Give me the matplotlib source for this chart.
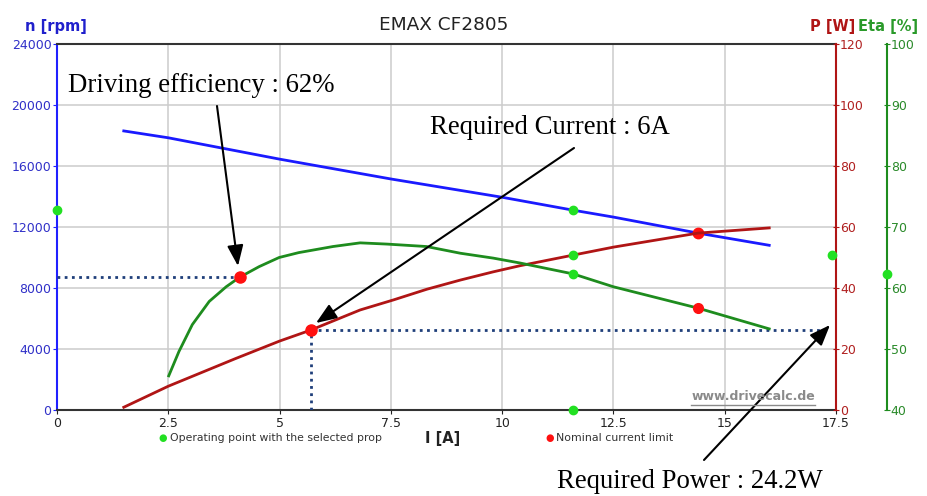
import matplotlib
matplotlib.use("Agg")
import matplotlib.pyplot as plt
from matplotlib.lines import Line2D
from matplotlib.patches import FancyArrowPatch

# ---------------- data ----------------
title = "EMAX CF2805"
I_rpm = [1.5, 2.5, 5.0, 7.5, 10.0, 11.6, 12.5, 14.4, 16.0]
rpm = [18300, 17850, 16450, 15150, 13950, 13100, 12650, 11600, 10800]

I_pow = [1.5, 2.5, 4.0, 5.0, 5.7, 6.81, 7.56, 8.31, 9.06, 9.8, 10.4, 11.6, 12.5, 14.4, 16.0]
power = [0.9, 7.8, 16.8, 22.6, 26.2, 32.8, 36.1, 39.6, 42.6, 45.3, 47.3, 50.8, 53.4, 58.0, 59.7]

I_eta = [2.51, 2.74, 3.04, 3.42, 3.80, 4.1, 4.54, 4.99, 5.43, 6.2, 6.81, 7.41, 8.3, 9.06,
         9.8, 10.4, 11.6, 12.5, 14.4, 16.0]
eta = [45.6, 49.6, 54.0, 57.8, 60.2, 61.75, 63.5, 65.0, 65.8, 66.8, 67.4, 67.2, 66.8, 65.7,
       64.9, 64.1, 62.3, 60.2, 56.7, 53.3]

# operating point with the selected prop
op_I = 11.6
op_rpm = 13100
op_P = 50.8
op_eta = 62.3
# nominal current limit points
nom_I = 14.4
nom_rpm = 11600
nom_eta = 56.7
# annotated points
drv_I = 4.1
drv_eta = 61.75
req_I = 5.7
req_P = 26.2

x_ticks = [0, 2.5, 5, 7.5, 10, 12.5, 15, 17.5]
x_tick_labels = ["0", "2.5", "5", "7.5", "10", "12.5", "15", "17.5"]
rpm_ticks = [0, 4000, 8000, 12000, 16000, 20000, 24000]
p_ticks = [0, 20, 40, 60, 80, 100, 120]
eta_ticks = [40, 50, 60, 70, 80, 90, 100]

# ---------------- style ----------------
W, H = 927, 496
BLUE = "#1a1aff"
BLUE_T = "#3030c8"
RED = "#b01515"
RED_T = "#b02020"
GREEN = "#1e8c1e"
GREEN_T = "#2a8a2a"
DOT_G = "#22e022"
DOT_R = "#ff1010"
DOTLINE = "#1f3f7a"

fig = plt.figure(figsize=(W / 100, H / 100), dpi=100)
L, R, B, T = 57, 836, 410, 44
ax = fig.add_axes([L / W, 1 - B / H, (R - L) / W, (B - T) / H])
ax2 = ax.twinx()
ax3 = ax.twinx()

ax.set_xlim(0, 17.5)
ax.set_ylim(0, 24000)
ax2.set_ylim(0, 120)
ax3.set_ylim(40, 100)

ax.set_xticks(x_ticks)
ax.set_xticklabels(x_tick_labels)
ax.set_yticks(rpm_ticks)
ax2.set_yticks(p_ticks)
ax3.set_yticks(eta_ticks)

ax.grid(True, color="#cccccc", linewidth=1.1)
ax.set_axisbelow(True)

for a in (ax, ax2, ax3):
    for s in a.spines.values():
        s.set_visible(False)
ax.spines["left"].set_visible(True)
ax.spines["left"].set_color("#2020ff")
ax.spines["left"].set_linewidth(1.5)
ax.spines["bottom"].set_visible(True)
ax.spines["bottom"].set_color("#333333")
ax.spines["bottom"].set_linewidth(1.5)
ax.spines["top"].set_visible(True)
ax.spines["top"].set_color("#333333")
ax.spines["top"].set_linewidth(1.5)
ax2.spines["right"].set_visible(True)
ax2.spines["right"].set_color(RED)
ax2.spines["right"].set_linewidth(1.5)
ax3.spines["right"].set_visible(True)
ax3.spines["right"].set_color(GREEN)
ax3.spines["right"].set_linewidth(1.5)
ax3.spines["right"].set_position(("outward", 36.5))

ax.tick_params(axis="x", colors="#222222", labelsize=9, length=3, pad=2)
ax.tick_params(axis="y", colors="#2020ff", labelcolor=BLUE_T, labelsize=9, length=3, pad=1)
ax2.tick_params(axis="y", colors=RED, labelcolor=RED_T, labelsize=9, length=4, direction="inout", pad=1)
ax3.tick_params(axis="y", colors=GREEN, labelcolor=GREEN_T, labelsize=9, length=4, direction="inout", pad=1)

# curves
ax.plot(I_rpm, rpm, color=BLUE, lw=2, zorder=3)
ax2.plot(I_pow, power, color=RED, lw=2, zorder=3)
ax3.plot(I_eta, eta, color=GREEN, lw=2, zorder=3)

# dotted helper lines
ax3.plot([0, drv_I], [drv_eta, drv_eta], color=DOTLINE, lw=2, ls=(0, (1, 1.6)), zorder=2)
ax2.plot([req_I, req_I], [0, req_P], color=DOTLINE, lw=2, ls=(0, (1, 1.6)), zorder=2)
ax2.plot([req_I, 17.3], [req_P, req_P], color=DOTLINE, lw=2, ls=(0, (1, 1.6)), zorder=2)

# operating point markers (green)
ms = 6
ax.plot([op_I], [op_rpm], "o", color=DOT_G, ms=ms, zorder=5)
ax.plot([0], [op_rpm], "o", color=DOT_G, ms=ms, zorder=5, clip_on=False)
ax.plot([op_I], [0], "o", color=DOT_G, ms=ms, zorder=5, clip_on=False)
ax2.plot([op_I], [op_P], "o", color=DOT_G, ms=ms, zorder=5)
ax2.plot([17.4], [op_P], "o", color=DOT_G, ms=ms, zorder=5, clip_on=False)
ax3.plot([op_I], [op_eta], "o", color=DOT_G, ms=ms, zorder=5)
ax3.plot([17.5 + 51 / 44.5], [op_eta], "o", color=DOT_G, ms=ms, zorder=5, clip_on=False)

# nominal current limit markers (red)
ax.plot([nom_I], [nom_rpm], "o", color=DOT_R, ms=7.5, zorder=5)
ax3.plot([nom_I], [nom_eta], "o", color=DOT_R, ms=7, zorder=5)
ax3.plot([drv_I], [drv_eta], "o", color=DOT_R, ms=8, zorder=5)
ax2.plot([req_I], [req_P], "o", color=DOT_R, ms=8, zorder=5)

# axis labels / title
fig.text(444 / W, 1 - 25 / H, title, ha="center", va="center", fontsize=13.3, color="#222222")
fig.text(25 / W, 1 - 27 / H, "n [rpm]", ha="left", va="center", fontsize=10.5, fontweight="bold", color="#2020cc")
fig.text(855 / W, 1 - 27 / H, "P [W]", ha="right", va="center", fontsize=10.5, fontweight="bold", color="#b01515")
fig.text(858 / W, 1 - 27 / H, "Eta [%]", ha="left", va="center", fontsize=10.5, fontweight="bold", color="#2a9a2a")
fig.text(443 / W, 1 - 438 / H, "I [A]", ha="center", va="center", fontsize=10.5, fontweight="bold", color="#222222")

# legend
fig.text(163 / W, 1 - 438 / H, "\u25CF", ha="center", va="center", fontsize=7, color=DOT_G)
fig.text(170 / W, 1 - 438 / H, "Operating point with the selected prop", ha="left", va="center",
         fontsize=7.8, color="#333333")
fig.text(550 / W, 1 - 438 / H, "\u25CF", ha="center", va="center", fontsize=7, color=DOT_R)
fig.text(556 / W, 1 - 438 / H, "Nominal current limit", ha="left", va="center", fontsize=7.9, color="#333333")

# watermark
fig.text(815 / W, 1 - 397 / H, "www.drivecalc.de", ha="right", va="center", fontsize=9,
         fontweight="bold", color="#8a8a8a")
fig.add_artist(Line2D([691 / W, 815 / W], [1 - 405 / H, 1 - 405 / H], color="#8a8a8a", lw=1))

# annotations
serif = "Liberation Serif"
arrowprops = dict(arrowstyle="-|>,head_length=0.9,head_width=0.35", color="black", lw=1.5,
                  shrinkA=0, shrinkB=0)
fig.text(68 / W, 1 - 85 / H, "Driving efficiency : 62%", ha="left", va="center", fontsize=19.3,
         family=serif, color="black")
fig.text(430 / W, 1 - 128 / H, "Required Current : 6A", ha="left", va="center", fontsize=19.3,
         family=serif, color="black")
fig.text(557 / W, 1 - 481 / H, "Required Power : 24.2W", ha="left", va="center", fontsize=19.3,
         family=serif, color="black")
for tail, tip in [((217, 106), (238, 266)), ((574, 148), (316, 323)), ((704, 460), (830, 325))]:
    fig.add_artist(FancyArrowPatch((tail[0] / W, 1 - tail[1] / H), (tip[0] / W, 1 - tip[1] / H),
                                   transform=fig.transFigure, mutation_scale=14, **arrowprops))

fig.savefig("out.png", dpi=100)
